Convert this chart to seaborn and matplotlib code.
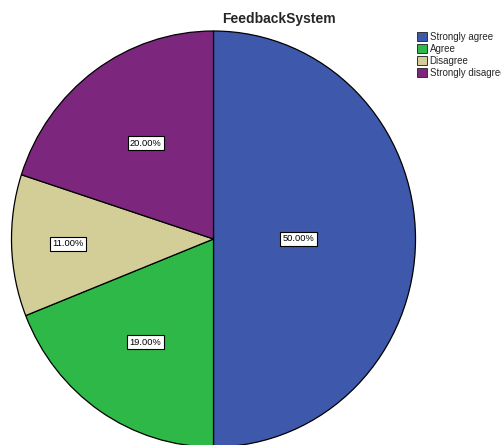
import numpy as np
import matplotlib
matplotlib.use("Agg")
import matplotlib.pyplot as plt
import matplotlib.patches as mpatches
import seaborn as sns

categories = ["Strongly agree", "Agree", "Disagree", "Strongly disagree"]
values = [50.0, 19.0, 11.0, 20.0]
colors = ["#3E58AC", "#2EB848", "#D3CE97", "#7C277D"]
label_dist = [0.42, 0.60, 0.72, 0.57]
title = "FeedbackSystem"

sns.set_style("white")
plt.rcParams["font.family"] = ["Liberation Sans", "DejaVu Sans"]

W, H = 502, 445
fig = plt.figure(figsize=(W / 100, H / 100), dpi=100)
cx, cy, rx, ry = 213.5, 239.0, 202.0, 208.0
ax = fig.add_axes([(cx - rx) / W, 1 - (cy + ry) / H, 2 * rx / W, 2 * ry / H])

wedges, _ = ax.pie(values, colors=colors, startangle=90, counterclock=False,
                   wedgeprops=dict(edgecolor="black", linewidth=0.9))
ax.set_aspect("auto")
ax.set_xlim(-1, 1)
ax.set_ylim(-1, 1)
ax.axis("off")

cum = np.cumsum([0] + values)
total = sum(values)
for i, v in enumerate(values):
    mid = (cum[i] + v / 2) / total * 2 * np.pi
    d = label_dist[i]
    ax.text(d * np.sin(mid), d * np.cos(mid), f"{v:.2f}%", ha="center", va="center",
            fontsize=6.7, color="black",
            bbox=dict(boxstyle="square,pad=0.25", facecolor="white", edgecolor="black", linewidth=0.8))

fig.text(279 / W, 1 - 18.5 / H, title, ha="center", va="center", weight="bold", fontsize=10)

handles = [mpatches.Patch(facecolor=c, edgecolor="#333333", linewidth=0.7) for c in colors]
fig.legend(handles, categories, loc="upper left", bbox_to_anchor=(417 / W, 1 - 32 / H),
           frameon=False, fontsize=7, handlelength=1.0, handleheight=1.0,
           handletextpad=0.3, labelspacing=0.2, borderpad=0, borderaxespad=0)

fig.savefig("out.png", dpi=100)
